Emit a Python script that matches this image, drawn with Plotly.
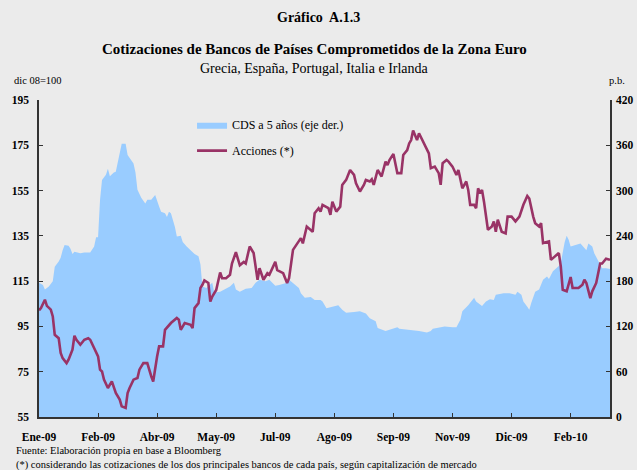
import plotly.graph_objects as go

# x positions are trading-day indices (ticks every 30 days)
tick_days = [0, 30, 60, 90, 120, 150, 180, 210, 240, 270]
tick_labels = ["Ene-09", "Feb-09", "Abr-09", "May-09", "Jul-09", "Ago-09",
               "Sep-09", "Nov-09", "Dic-09", "Feb-10"]

cds_days = [0, 2, 3, 5, 7, 8, 10, 11, 12, 13, 15, 16, 17, 18, 21, 23, 26, 28, 29, 30,
            31, 32, 34, 35, 36, 38, 39, 40, 42, 44, 45, 48, 49, 50, 52, 54, 55, 57, 59, 61,
            62, 64, 65, 66, 67, 69, 70, 72, 73, 75, 78, 79, 81, 82, 83, 85, 88, 89, 92, 94,
            97, 99, 100, 102, 105, 108, 110, 112, 115, 117, 120, 122, 126, 127, 129, 132, 133, 135, 138, 140,
            143, 144, 146, 149, 152, 154, 156, 160, 163, 166, 168, 171, 172, 176, 179, 182, 183, 187, 190, 193,
            197, 199, 200, 204, 206, 210, 212, 214, 215, 218, 221, 222, 225, 227, 229, 231, 232, 236, 239, 242,
            243, 245, 246, 248, 249, 250, 252, 254, 256, 258, 259, 261, 264, 265, 267, 268, 269, 270, 272, 275,
            276, 278, 279, 281, 282, 284, 286, 288, 290]
cds_pb = [178, 175, 169, 173, 180, 199, 206, 211, 221, 228, 227, 223, 216, 219, 217, 218, 218, 226, 238, 238,
          288, 314, 321, 329, 319, 324, 325, 336, 362, 362, 347, 336, 324, 301, 290, 283, 288, 288, 294, 279,
          272, 270, 265, 272, 270, 252, 239, 240, 232, 226, 219, 216, 213, 202, 173, 171, 178, 165, 166, 169,
          173, 178, 169, 166, 170, 171, 178, 182, 180, 182, 174, 175, 178, 182, 178, 171, 164, 158, 159, 155,
          155, 153, 144, 146, 148, 142, 138, 139, 140, 137, 131, 127, 118, 114, 116, 119, 117, 116, 115, 114,
          112, 114, 117, 119, 120, 119, 119, 129, 140, 148, 158, 153, 147, 153, 156, 155, 162, 164, 164, 162,
          166, 162, 153, 146, 142, 151, 166, 169, 182, 186, 183, 193, 200, 204, 232, 240, 235, 226, 228, 230,
          227, 221, 230, 226, 217, 206, 197, 197, 196]

acc_days = [0, 1, 3, 4, 6, 7, 8, 10, 11, 12, 14, 15, 17, 18, 19, 21, 23, 25, 26, 28,
            30, 31, 32, 33, 35, 37, 38, 39, 41, 42, 44, 45, 46, 48, 50, 51, 53, 55, 57, 58,
            60, 61, 63, 64, 67, 70, 71, 72, 74, 77, 78, 79, 81, 82, 83, 84, 86, 87, 88, 90,
            92, 93, 95, 97, 98, 100, 102, 104, 105, 107, 109, 111, 112, 114, 116, 117, 120, 121, 124, 126,
            127, 129, 133, 134, 136, 139, 140, 142, 143, 144, 147, 148, 149, 151, 153, 154, 156, 158, 160, 161,
            163, 165, 166, 168, 169, 170, 172, 174, 176, 177, 178, 180, 182, 184, 185, 187, 188, 189, 190, 192,
            193, 195, 196, 198, 199, 201, 203, 204, 205, 207, 208, 210, 212, 213, 215, 217, 218, 219, 221, 222,
            223, 224, 225, 226, 228, 230, 231, 232, 233, 235, 237, 238, 240, 242, 244, 246, 248, 249, 251, 252,
            254, 255, 256, 259, 260, 262, 264, 265, 266, 268, 270, 271, 274, 276, 277, 278, 280, 281, 283, 285,
            286, 288, 290]
acc_index = [102.1, 103.1, 106.8, 104.1, 102.4, 99.4, 91.3, 89.8, 83.3, 81.0, 78.8, 80.3, 84.7, 90.9, 89.1, 86.9, 89.1, 89.8, 89.1, 85.4,
             81.8, 75.9, 75.1, 71.5, 67.8, 70.7, 67.8, 65.6, 62.7, 59.7, 59.0, 65.6, 67.8, 71.5, 72.2, 75.9, 78.8, 78.8, 73.0, 70.7,
             81.8, 86.2, 86.2, 93.5, 96.5, 98.7, 98.0, 93.5, 96.5, 95.7, 94.3, 103.1, 105.3, 112.0, 113.4, 115.3, 114.2, 106.0, 108.2, 111.1,
             118.8, 116.3, 116.3, 117.8, 122.8, 127.8, 122.0, 123.5, 122.8, 130.3, 127.4, 115.6, 120.7, 115.6, 118.5, 117.8, 123.5, 119.9, 118.5, 114.2,
             116.3, 128.8, 134.0, 131.7, 139.1, 136.8, 145.0, 147.2, 145.7, 148.7, 147.2, 144.3, 150.1, 145.7, 147.9, 157.5, 159.7, 164.1, 161.9, 158.2,
             154.6, 157.5, 159.7, 159.0, 160.0, 157.5, 164.1, 161.2, 167.8, 166.3, 168.5, 171.2, 162.7, 162.7, 170.7, 172.9, 175.8, 177.3, 181.5, 177.3,
             180.3, 176.6, 175.1, 171.4, 164.9, 165.6, 162.7, 157.5, 167.1, 168.5, 167.8, 165.6, 161.9, 164.1, 156.0, 159.0, 155.3, 148.7, 148.7, 147.2,
             156.0, 153.8, 155.3, 150.1, 137.7, 139.1, 141.4, 136.8, 142.1, 136.8, 136.1, 143.5, 143.5, 141.4, 143.5, 148.7, 152.6, 151.5, 143.5, 140.6,
             139.1, 140.6, 131.8, 132.5, 124.4, 125.9, 127.4, 121.5, 111.2, 110.5, 116.8, 112.0, 112.0, 113.4, 115.6, 114.2, 107.5, 110.5, 114.2, 122.8,
             122.8, 124.9, 124.4]

BG = "#EBEBEB"
FONT = "Liberation Serif"

fig = go.Figure()
fig.add_trace(go.Scatter(
    x=cds_days, y=cds_pb, name="CDS a 5 años (eje der.)", mode="lines",
    fill="tozeroy", fillcolor="#99CCFF", line=dict(width=0, color="#99CCFF"),
    yaxis="y", legendgroup="a", hoverinfo="skip"))
fig.add_trace(go.Scatter(
    x=acc_days, y=acc_index, name="Acciones (*)", mode="lines",
    line=dict(width=2.6, color="#993366"), yaxis="y2", legendgroup="b"))

axis_common = dict(showgrid=False, zeroline=False, showline=True, linecolor="#333333",
                   linewidth=1.5, ticks="inside", ticklen=4, tickcolor="#333333",
                   automargin=False,
                   tickfont=dict(family=FONT, size=11.5, color="black", weight="bold"))

fig.update_layout(
    width=637, height=470, autosize=False,
    margin=dict(l=39, r=27, t=100, b=53),
    paper_bgcolor=BG, plot_bgcolor=BG,
    font=dict(family=FONT, color="black"),
    showlegend=True,
    legend=dict(x=0.268, y=0.968, xanchor="left", yanchor="top", bgcolor="rgba(0,0,0,0)",
                font=dict(family=FONT, size=12, color="black"),
                traceorder="grouped", tracegroupgap=7, itemwidth=30),
    xaxis=dict(range=[0, 290], tickvals=tick_days, ticktext=tick_labels,
               ticklabelstandoff=8, **axis_common),
    yaxis=dict(range=[0, 420], tickvals=[0, 60, 120, 180, 240, 300, 360, 420],
               side="right", ticklabelstandoff=2, **axis_common),
    yaxis2=dict(range=[55, 195], tickvals=[55, 75, 95, 115, 135, 155, 175, 195],
                side="left", overlaying="y", ticklabelstandoff=6, **axis_common),
)

ann = [
    dict(text="<b>Gráfico  A.1.3</b>", x=0.49, y=1.259, size=14),
    dict(text="<b>Cotizaciones de Bancos de Países Comprometidos de la Zona Euro</b>", x=0.483, y=1.16, size=15),
    dict(text="Grecia, España, Portugal, Italia e Irlanda", x=0.483, y=1.10, size=14),
]
for a in ann:
    fig.add_annotation(text=a["text"], x=a["x"], y=a["y"], xref="paper", yref="paper",
                       xanchor="center", yanchor="middle", showarrow=False,
                       font=dict(family=FONT, size=a["size"], color="black"))

side = [
    dict(text="dic 08=100", x=-0.048, y=1.06, xanchor="left", size=10.5),
    dict(text="p.b.", x=1.03, y=1.06, xanchor="right", size=10.5),
    dict(text="Fuente: Elaboración propia en base a Bloomberg", x=-0.043, y=-0.106, xanchor="left", size=10.5),
    dict(text="(*) considerando las cotizaciones de los dos principales bancos de cada país, según capitalización de mercado",
         x=-0.043, y=-0.151, xanchor="left", size=10.5),
]
for a in side:
    fig.add_annotation(text=a["text"], x=a["x"], y=a["y"], xref="paper", yref="paper",
                       xanchor=a["xanchor"], yanchor="middle", showarrow=False,
                       font=dict(family=FONT, size=a["size"], color="black"))

fig.write_html("out.html", config={"displayModeBar": False},
               post_script="document.body.style.margin='0';document.body.style.padding='0';")
